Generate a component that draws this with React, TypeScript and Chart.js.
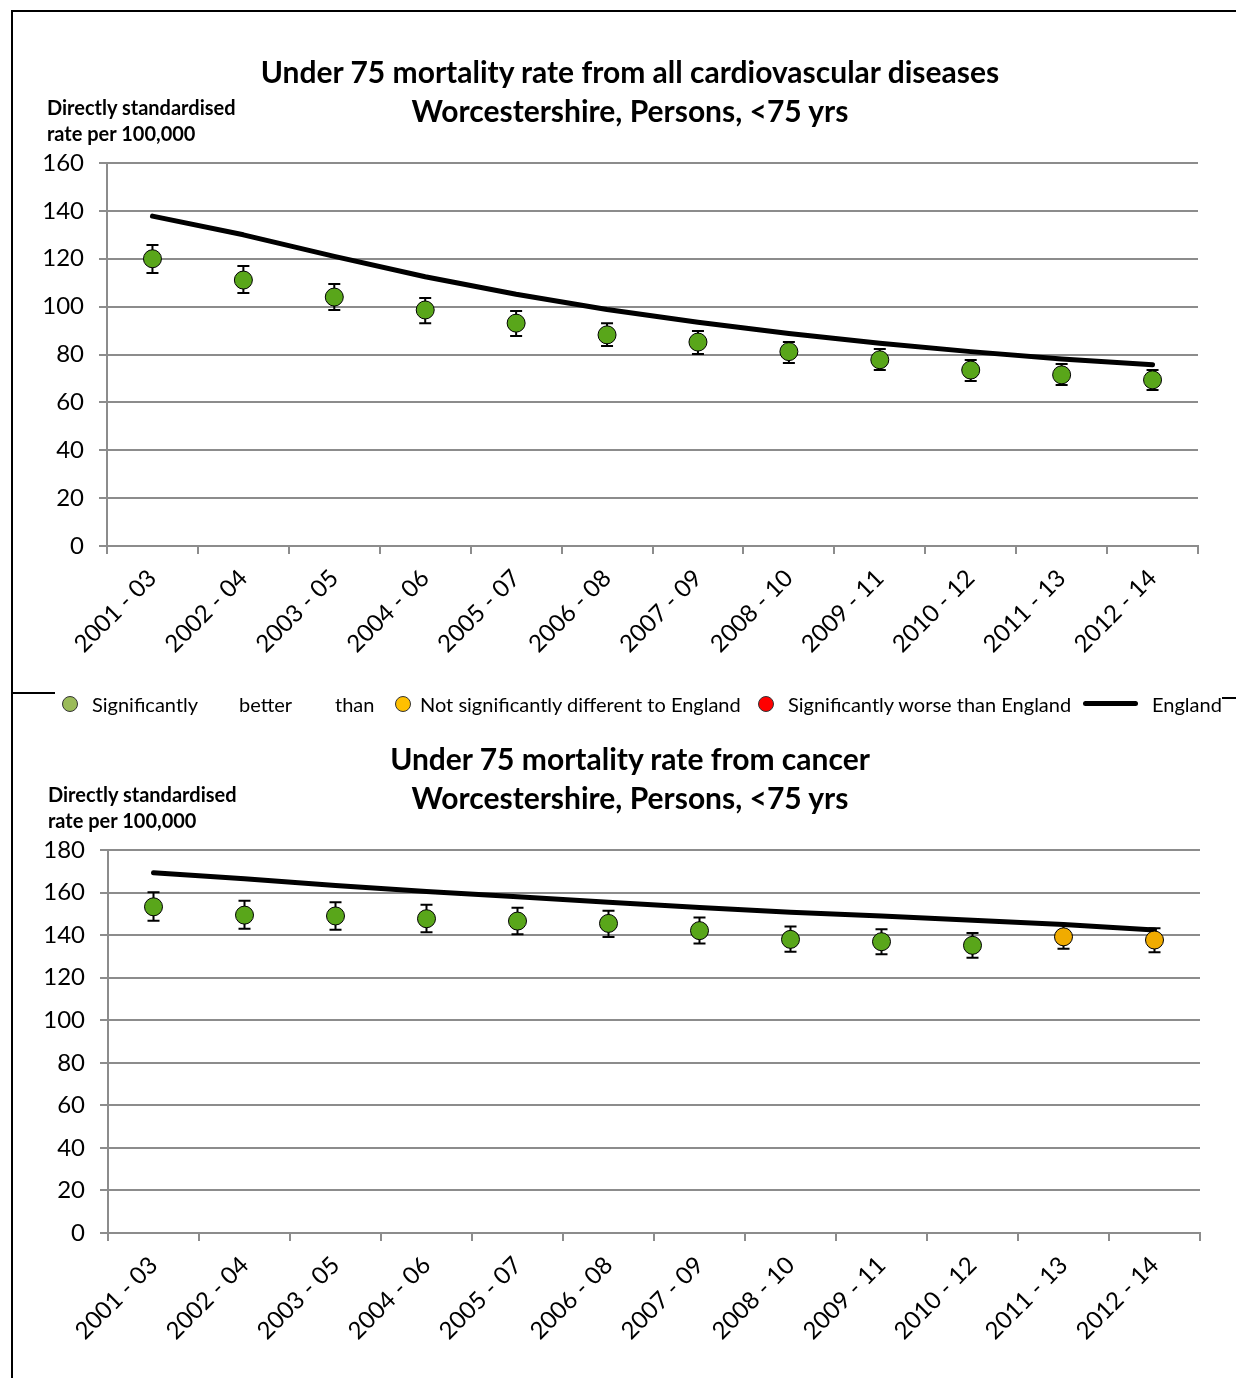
import React, { useEffect, useRef } from "react";
import { Chart, registerables } from "chart.js";

Chart.register(...registerables);

// ---------- data ----------
const categories = [
  "2001 - 03", "2002 - 04", "2003 - 05", "2004 - 06", "2005 - 07", "2006 - 08",
  "2007 - 09", "2008 - 10", "2009 - 11", "2010 - 12", "2011 - 13", "2012 - 14",
];

const cvdValues = [120, 111.1, 104, 98.6, 93.1, 88.2, 85.2, 81.2, 77.8, 73.5, 71.5, 69.4];
const cvdLower = [114, 105.7, 98.6, 93.1, 87.7, 83.5, 80.2, 76.4, 73.5, 68.9, 67.3, 65.2];
const cvdUpper = [125.7, 117, 109.4, 103.6, 98.2, 93.1, 89.8, 85.2, 82.3, 77.7, 76, 73.5];
const cvdEngland = [137.8, 130, 121, 112.5, 105.2, 98.8, 93.5, 88.8, 84.7, 81.2, 78.1, 75.7];
const cvdSignificance = ["better", "better", "better", "better", "better", "better", "better", "better", "better", "better", "better", "better"];
const cvdTicks = [0, 20, 40, 60, 80, 100, 120, 140, 160];

const cancerValues = [153.3, 149.4, 149, 147.7, 146.6, 145.5, 142.1, 138, 136.9, 135.2, 139.2, 137.7];
const cancerLower = [146.8, 143, 142.5, 141.4, 140.4, 139.1, 136.1, 132.2, 131, 129.4, 133.6, 132];
const cancerUpper = [160.1, 156.2, 155.4, 154.3, 152.9, 151.5, 148.3, 144, 142.7, 141, 145.2, 143.2];
const cancerEngland = [169.3, 166.5, 163.3, 160.5, 158, 155.5, 153, 150.8, 149, 147, 145, 142.4];
const cancerSignificance = ["better", "better", "better", "better", "better", "better", "better", "better", "better", "better", "similar", "similar"];
const cancerTicks = [0, 20, 40, 60, 80, 100, 120, 140, 160, 180];

const cvdTitle = ["Under 75 mortality rate from all cardiovascular diseases", "Worcestershire, Persons, <75 yrs"];
const cancerTitle = ["Under 75 mortality rate from cancer", "Worcestershire, Persons, <75 yrs"];
const yAxisTitle = ["Directly standardised", "rate per 100,000"];

const legendLabels = {
  better: "Significantly better than England",
  similar: "Not significantly different to England",
  worse: "Significantly worse than England",
  england: "England",
};

// ---------- styles ----------
const FONT = "Lato, 'Open Sans', 'Noto Sans', sans-serif";
const pointColors: Record<string, string> = { better: "#59A61A", similar: "#F0AB00", worse: "#FF0000" };
const legendColors: Record<string, string> = { better: "#9BBB59", similar: "#FFC000", worse: "#FF0000" };
const GRID = "#8c8c8c";

const errorBarPlugin = {
  id: "errorBars",
  beforeDatasetsDraw(chart: any) {
    const ctx = chart.ctx;
    const xs = chart.scales.x;
    const ys = chart.scales.y;
    chart.data.datasets.forEach((ds: any) => {
      if (!ds.errorLower) return;
      ctx.save();
      ctx.strokeStyle = "#000";
      ctx.lineWidth = 2;
      ds.errorLower.forEach((lo: number, j: number) => {
        const px = xs.getPixelForValue(j);
        const yl = ys.getPixelForValue(lo);
        const yh = ys.getPixelForValue(ds.errorUpper[j]);
        ctx.beginPath();
        ctx.moveTo(px, yl);
        ctx.lineTo(px, yh);
        ctx.moveTo(px - 6, yl);
        ctx.lineTo(px + 6, yl);
        ctx.moveTo(px - 6, yh);
        ctx.lineTo(px + 6, yh);
        ctx.stroke();
      });
      ctx.restore();
    });
  },
};

type PanelProps = {
  top: number;
  height: number;
  plotTop: number;
  plotLeft: number;
  plotRight: number;
  plotBottom: number;
  values: number[];
  lower: number[];
  upper: number[];
  england: number[];
  significance: string[];
  ticks: number[];
};

function Panel(p: PanelProps) {
  const ref = useRef<HTMLCanvasElement | null>(null);
  useEffect(() => {
    if (!ref.current) return;
    const yMax = p.ticks[p.ticks.length - 1];
    const chart = new Chart(ref.current, {
      type: "line",
      data: {
        labels: categories,
        datasets: [
          {
            label: "Area",
            data: p.values,
            showLine: false,
            pointRadius: 9,
            pointHoverRadius: 9,
            pointBorderWidth: 1,
            pointBorderColor: "#000",
            pointBackgroundColor: p.significance.map((s) => pointColors[s]),
            order: 0,
            errorLower: p.lower,
            errorUpper: p.upper,
          } as any,
          {
            label: "England",
            data: p.england,
            borderColor: "#000",
            borderWidth: 5,
            borderCapStyle: "round",
            borderJoinStyle: "round",
            pointRadius: 0,
            tension: 0,
            fill: false,
            order: 1,
          },
        ],
      },
      options: {
        responsive: false,
        animation: false,
        devicePixelRatio: 1,
        layout: {
          padding: { top: p.plotTop, left: 0, right: 1236 - p.plotRight, bottom: 0 },
        },
        plugins: { legend: { display: false }, title: { display: false }, tooltip: { enabled: false } },
        scales: {
          x: {
            type: "category",
            offset: true,
            grid: { offset: true, drawOnChartArea: false, drawTicks: true, tickLength: 8, color: GRID, lineWidth: 2 },
            border: { color: GRID, width: 2 },
            ticks: {
              autoSkip: false,
              minRotation: 45,
              maxRotation: 45,
              color: "#000",
              padding: 10,
              font: { family: FONT, size: 24 },
            },
            afterFit: (s: any) => {
              s.height = p.height - p.plotBottom;
            },
          },
          y: {
            min: 0,
            max: yMax,
            afterBuildTicks: (s: any) => {
              s.ticks = p.ticks.map((v) => ({ value: v }));
            },
            grid: { color: GRID, lineWidth: 2, tickLength: 8, drawTicks: true },
            border: { color: GRID, width: 2 },
            ticks: {
              color: "#000",
              padding: 15,
              font: { family: FONT, size: 24 },
            },
            afterFit: (s: any) => {
              s.width = p.plotLeft;
            },
          },
        },
      },
      plugins: [errorBarPlugin],
    } as any);
    return () => chart.destroy();
  }, []);
  return (
    <canvas
      ref={ref}
      width={1236}
      height={p.height}
      style={{ position: "absolute", left: 0, top: p.top, width: 1236, height: p.height }}
    />
  );
}

function Title({ lines, top }: { lines: string[]; top: number }) {
  return (
    <div
      style={{
        position: "absolute",
        left: 130,
        width: 1000,
        top,
        textAlign: "center",
        fontFamily: FONT,
        fontWeight: 700,
        fontSize: 30,
        lineHeight: "39px",
        color: "#000",
        whiteSpace: "nowrap",
      }}
    >
      {lines.map((l, i) => (
        <div key={i}>{l}</div>
      ))}
    </div>
  );
}

function YLabel({ left, top }: { left: number; top: number }) {
  return (
    <div
      style={{
        position: "absolute",
        left,
        top,
        fontFamily: FONT,
        fontWeight: 700,
        fontSize: 20,
        lineHeight: "26px",
        color: "#000",
        whiteSpace: "nowrap",
      }}
    >
      {yAxisTitle.map((l, i) => (
        <div key={i}>{l}</div>
      ))}
    </div>
  );
}

function LegendText({ x, text }: { x: number; text: string }) {
  return (
    <div
      style={{
        position: "absolute",
        left: x,
        top: 692,
        height: 24,
        lineHeight: "24px",
        fontFamily: FONT,
        fontSize: 20,
        color: "#000",
        whiteSpace: "nowrap",
      }}
    >
      {text}
    </div>
  );
}

function LegendDot({ x, color }: { x: number; color: string }) {
  return (
    <div
      style={{
        position: "absolute",
        left: x - 8,
        top: 696,
        width: 14,
        height: 14,
        borderRadius: "50%",
        background: color,
        border: "1px solid #333",
      }}
    />
  );
}

export default function App() {
  const betterWords = legendLabels.better.split(" ");
  return (
    <div
      style={{
        position: "absolute",
        left: 0,
        top: 0,
        width: 1236,
        height: 1378,
        background: "#fff",
        overflow: "hidden",
      }}
    >
      <Panel
        top={0}
        height={690}
        plotTop={163}
        plotLeft={107}
        plotRight={1198}
        plotBottom={546}
        values={cvdValues}
        lower={cvdLower}
        upper={cvdUpper}
        england={cvdEngland}
        significance={cvdSignificance}
        ticks={cvdTicks}
      />
      <Panel
        top={690}
        height={688}
        plotTop={160}
        plotLeft={108}
        plotRight={1200}
        plotBottom={543}
        values={cancerValues}
        lower={cancerLower}
        upper={cancerUpper}
        england={cancerEngland}
        significance={cancerSignificance}
        ticks={cancerTicks}
      />
      <Title lines={cvdTitle} top={52} />
      <Title lines={cancerTitle} top={739} />
      <YLabel left={47} top={94} />
      <YLabel left={48} top={781} />

      {/* legend */}
      <LegendDot x={70} color={legendColors.better} />
      <LegendText x={92} text={betterWords[0]} />
      <LegendText x={239} text={betterWords[1]} />
      <LegendText x={335} text={betterWords[2]} />
      <LegendDot x={403} color={legendColors.similar} />
      <LegendText x={420} text={legendLabels.similar} />
      <LegendDot x={766} color={legendColors.worse} />
      <LegendText x={788} text={legendLabels.worse} />
      <div style={{ position: "absolute", left: 1083, top: 701, width: 55, height: 5, background: "#000", borderRadius: 3 }} />
      <LegendText x={1152} text={legendLabels.england} />

      {/* frame lines */}
      <div style={{ position: "absolute", left: 11, top: 10, width: 1225, height: 2, background: "#000" }} />
      <div style={{ position: "absolute", left: 11, top: 10, width: 2, height: 1368, background: "#000" }} />
      <div style={{ position: "absolute", left: 11, top: 692, width: 44, height: 2, background: "#000" }} />
      <div style={{ position: "absolute", left: 1222, top: 697, width: 14, height: 2, background: "#000" }} />
    </div>
  );
}
